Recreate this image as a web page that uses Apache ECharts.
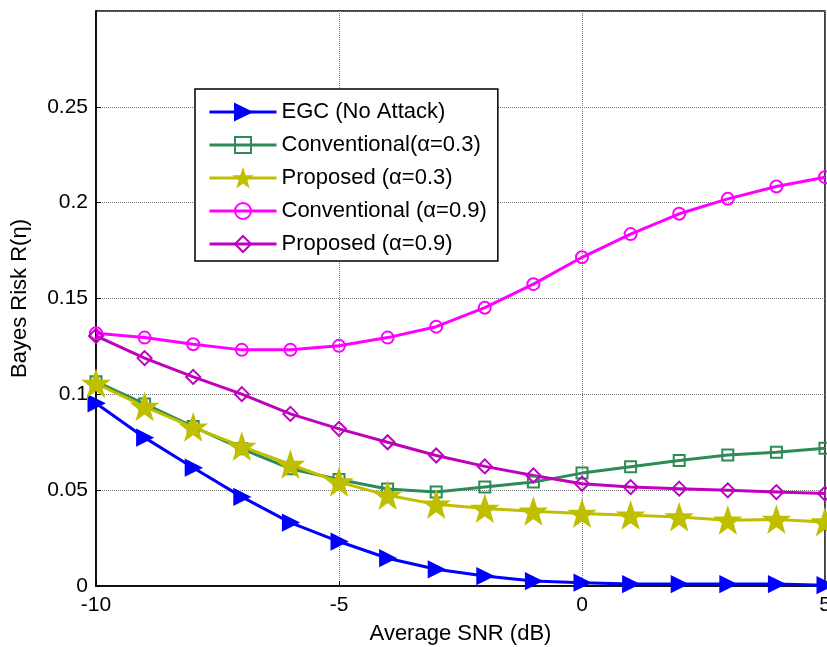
<!DOCTYPE html>
<html><head><meta charset="utf-8">
<script src="https://cdn.jsdelivr.net/npm/echarts@6/dist/echarts.min.js"></script>
<style>html,body{margin:0;padding:0;background:#fff}#c{width:827px;height:647px}</style>
</head><body><div id="c"></div>
<script>
const snr = [-10,-9,-8,-7,-6,-5,-4,-3,-2,-1,0,1,2,3,4,5];
const egc = [0.0953,0.0774,0.0617,0.0465,0.0331,0.0232,0.0145,0.0087,0.0052,0.0026,0.0017,0.0010,0.0010,0.0010,0.0010,0.0004];
const conv03 = [0.1066,0.0950,0.0832,0.0716,0.0612,0.0556,0.0506,0.0490,0.0516,0.0542,0.0589,0.0622,0.0655,0.0684,0.0698,0.0719];
const prop03 = [0.1057,0.0936,0.0828,0.0728,0.0634,0.0542,0.0473,0.0426,0.0404,0.0390,0.0378,0.0369,0.0360,0.0343,0.0347,0.0334];
const conv09 = [0.1319,0.1296,0.1261,0.1232,0.1232,0.1253,0.1296,0.1353,0.1452,0.1575,0.1715,0.1836,0.1942,0.2020,0.2084,0.2133];
const prop09 = [0.1305,0.1189,0.1091,0.1001,0.0898,0.0820,0.0750,0.0681,0.0624,0.0577,0.0534,0.0516,0.0508,0.0499,0.0490,0.0482];
const names = ['EGC (No Attack)','Conventional(\u03b1=0.3)','Proposed (\u03b1=0.3)','Conventional (\u03b1=0.9)','Proposed (\u03b1=0.9)'];
const xTicks = [-10,-5,0,5];

function starPath(){
  let pts=[];
  for(let i=0;i<10;i++){
    const r = i%2===0?50:20;
    const a = -Math.PI/2 + i*Math.PI/5;
    pts.push((50+r*Math.cos(a)).toFixed(2)+' '+(50+r*Math.sin(a)).toFixed(2));
  }
  return 'path://M'+pts.join(' L')+' Z';
}
const FONT = 'Liberation Sans, Arial, sans-serif';
const pair = arr => snr.map((x,i)=>[x,arr[i]]);

function mk(name, data, color, symbol, size, fill, extra){
  return Object.assign({
    name, type:'line', data: pair(data), symbol, symbolSize:size,
    lineStyle:{color, width:3}, itemStyle:{color: fill, borderColor:color, borderWidth:2},
    color, animation:false, z: 3
  }, extra||{});
}

const chart = echarts.init(document.getElementById('c'), null, {renderer:'canvas'});
chart.setOption({
  backgroundColor:'#fff',
  animation:false,
  grid:{left:96, right:2, top:11, bottom:61, show:true, borderColor:'#000', borderWidth:1.5,
        outerBoundsMode:'none', containLabel:false},
  legend:{
    orient:'vertical', left:195, top:89,
    backgroundColor:'#fff', borderColor:'#000', borderWidth:1.5,
    padding:[12,11,6,13], itemWidth:67, itemHeight:20, itemGap:11,
    lineStyle:{width:3},
    textStyle:{fontFamily:FONT, fontSize:22, lineHeight:22, color:'#000'},
    data: names
  },
  xAxis:{
    type:'value', min:-10, max:5, interval:5,
    name:'Average SNR (dB)', nameLocation:'middle', nameGap:37,
    nameTextStyle:{fontFamily:FONT, fontSize:22, color:'#000'},
    axisLine:{show:true, onZero:false, lineStyle:{color:'#000', width:1.5}},
    axisTick:{show:true, inside:true, length:5, lineStyle:{color:'#000'}},
    axisLabel:{fontFamily:FONT, fontSize:21, color:'#000', margin:9,
      formatter: v => xTicks.includes(v) ? String(v) : ''},
    splitLine:{show:true, lineStyle:{color:'#777', type:[1,1], width:1}}
  },
  yAxis:{
    type:'value', min:0, max:0.3, interval:0.05,
    name:'Bayes Risk R(\u03b7)', nameLocation:'middle', nameGap:65,
    nameTextStyle:{fontFamily:FONT, fontSize:22, color:'#000'},
    axisLine:{show:true, onZero:false, lineStyle:{color:'#000', width:1.5}},
    axisTick:{show:true, inside:true, length:5, lineStyle:{color:'#000'}},
    axisLabel:{fontFamily:FONT, fontSize:21, color:'#000', margin:8, showMaxLabel:false,
      formatter: v => String(Math.round(v*100)/100)},
    splitLine:{show:true, lineStyle:{color:'#777', type:[1,1], width:1}}
  },
  series:[
    mk(names[0], egc, '#0000ff', 'triangle', 15, '#0000ff', {symbolRotate:-90}),
    mk(names[1], conv03, '#2e8b57', 'rect', 11, 'rgba(255,255,255,0)'),
    mk(names[2], prop03, '#bfbf00', starPath(), 24, '#bfbf00'),
    mk(names[3], conv09, '#ff00ff', 'circle', 12, 'rgba(255,255,255,0)'),
    mk(names[4], prop09, '#bf00bf', 'diamond', 14, 'rgba(255,255,255,0)')
  ]
});
</script></body></html>
